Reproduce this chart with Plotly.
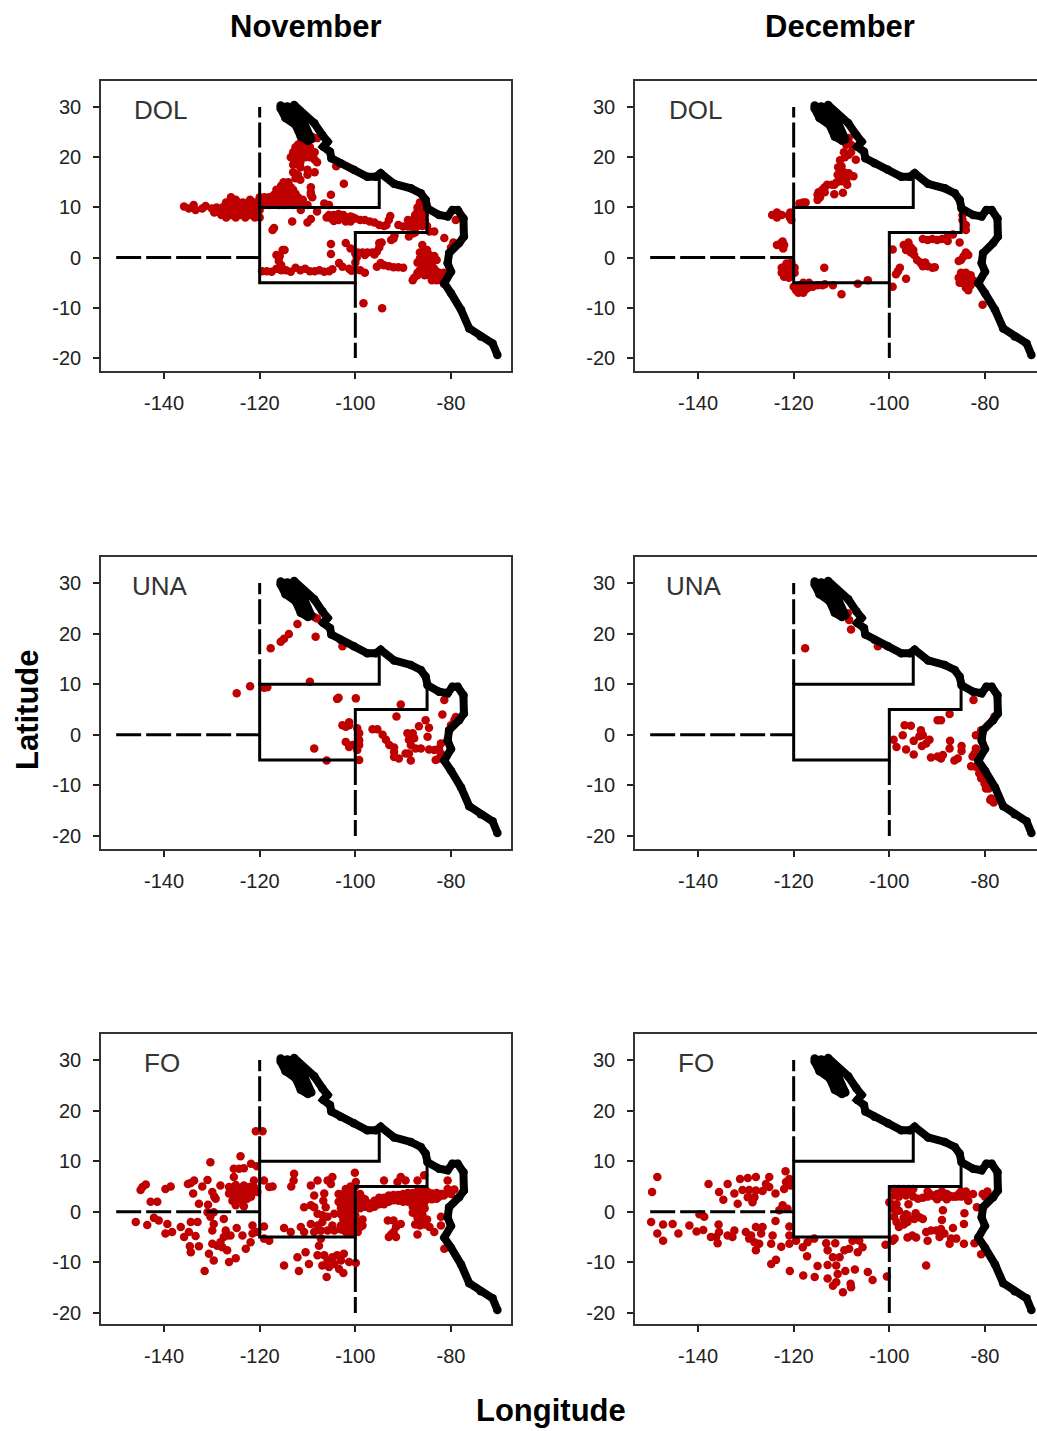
import plotly.graph_objects as go

X_TICKS = [-140, -120, -100, -80]
Y_TICKS = [-20, -10, 0, 10, 20, 30]
MONTHS = ["November", "December"]
GEARS = ["DOL", "UNA", "FO"]

COAST_BAJA = [(-115.6,30.3),(-115.6,29.7),(-114.6,27.8),(-112.5,26.4),(-111.4,24.1),(-109.9,23.3)]
COAST_BAJA_E = [(-114.2,30.1),(-112.1,28.8),(-110.7,26.8),(-110,24.8),(-109.2,23.6)]
COAST_GULF = [(-114.6,30),(-113.2,28.4),(-111.8,26.8),(-111.1,24.8)]
COAST_MAIN = [(-112.8,30.4),(-110.7,28.4),(-108.6,26.8),(-106.9,24.4),(-105.8,23.1),(-106.7,22.1),(-105.3,21.1),(-105,19.8),
 (-103.1,18.8),(-100.3,17.5),(-97.5,16.1),(-95.7,16.1),(-94.7,16.8),(-91.9,14.7),(-88.4,13.8),(-86.3,12.8),(-85.3,11.5),
 (-84.9,9.8),(-82.5,8.5),(-80.7,8.2),(-79.7,9.5),(-78.6,9.5),(-77.4,7.8),(-77.3,4.2),(-78.3,2.9),(-80.4,0.9),(-80.7,-1.1),
 (-80,-2.8),(-81.4,-5.1),(-80,-7.1),(-77.9,-10.4),(-76.2,-14.1),(-73.8,-15.7),(-71.3,-17.1),(-70.3,-19.4)]
AREA_UPPER = [(-95,16),(-95,10),(-120,10),(-120,-5),(-100,-5),(-100,5),(-85,5),(-85,9.5)]
DASH_NORTH = [(-120,10),(-120,30)]
DASH_WEST = [(-150,0),(-120,0)]
DASH_SOUTH = [(-100,-5),(-100,-20)]

NOV_DOL = [(-135.8,10.2),(-134.8,9.8),(-133.8,10.5),(-133.4,9.5),(-132,9.8),(-131.3,10.3),
(-130,9.8),(-129.5,9),(-129,10),(-128,8.5),(-128,9.8),(-127,8),(-127,9.5),(-127,11),(-126,8.5),(-126,10),(-126,12),(-125,8),(-125,9.5),(-125,11.5),(-124,8.5),(-124,10),(-123.5,11),(-123,8),(-123,9.5),(-122,8.5),(-122,10),(-122,11.5),(-121,8),(-121,9.5),(-121,11),(-120,8),(-120,9.5),(-120,11),(-120,12),
(-119,10.5),(-119,12),(-118,10.5),(-118,12),(-117,11),(-117,12.5),(-116.5,13.5),(-116,10.5),(-116,12),(-115,10.5),(-115,12),(-115,13.5),(-115,15),(-114,11),(-114,12.5),(-114,14),(-114,15),(-113,10.5),(-113,12),(-113,13.5),(-112,10.5),(-112,12),(-111,10.5),(-111,11.5),(-110,10.5),
(-113.5,20),(-113,18.5),(-113,17),(-113,21),(-112.5,22),(-112,20.5),(-112,22.5),(-111.5,19),(-111.5,18),(-111,21),(-111,22.5),(-110.5,20),(-110.5,23),(-110,22),(-110,20.5),(-109.5,20),(-108.5,21),(-108.5,19.5),(-109,24),(-108,23.8),(-108,19),(-112,16.5),(-111.5,15.5),(-110,17.5),(-108.5,17),(-110,16.5),(-112.5,15.8),
(-109.3,14),(-109.3,13),(-109,12),(-109.3,12.5),(-102.4,14.7),(-105.1,12.5),(-104,18.2),(-106.5,10.8),(-105.5,10.5),
(-111.4,9.5),(-108,9.2),(-113.2,7.2),(-109.3,7.7),(-110,7),(-117.3,5.5),(-117,5.9),
(-106,8),(-105,7.8),(-104,8),(-103,8.2),(-102,8),(-102,7.2),(-101,8.2),(-101,7.2),(-100,7.8),(-99,7.5),(-98,7.5),(-97,7.2),(-96,7),(-95,6.5),(-94,6.3),(-93,7.5),(-93.5,6.5),(-92.7,8.3),
(-91,6.5),(-90,6.2),(-89,6.2),(-88,6.3),(-87,6.3),(-86,6.3),(-85,6.3),(-89,7.5),(-88,7.5),(-87,7.5),(-86,7.5),(-85.5,7.5),(-87.5,8.5),(-86.5,8.5),(-85.5,8.5),(-87,10),(-86,10),(-85.5,9.5),(-86.5,11),(-84.5,5.2),(-83.5,5.2),
(-88.8,4.2),(-88,4.8),(-87.5,5),(-92,3.8),(-92.5,3.5),(-91.8,4.4),(-81.4,3.9),(-79,7.5),(-79.5,3),(-80,2),
(-105.1,2.7),(-105.1,0.7),(-102,2.9),(-101,1.8),(-100,0.8),(-99.7,0),(-100,-1),
(-99.5,1),(-98.5,1),(-97.5,1),(-96.5,1),(-95.5,1.2),(-95,2),(-94.5,3),(-96,0.6),(-98,0.5),(-95,2.9),
(-119.5,-2.7),(-118.5,-2.7),(-117.5,-2.8),(-116.5,-2.2),(-116,-2.2),(-115.5,-2.5),(-114.5,-2.5),(-113.5,-2.8),(-112.5,-2),(-111.5,-2.5),(-110.5,-2.2),(-109.5,-2.7),(-108.5,-2.7),(-107.5,-2.5),(-106.5,-2.8),(-105.5,-2.7),(-104.8,-2.3),
(-115.2,1.5),(-115.8,0.3),(-116,-0.7),(-115.5,-1.5),(-116.5,0.5),(-114.8,1.5),
(-103.4,-1.1),(-102.7,-1.8),(-101.3,-2.2),(-100.8,-2.6),(-100,-2.4),(-99,-2.5),(-98,-3),
(-94.7,-1.1),(-95.5,-1.8),(-94,-1.5),(-93,-1.7),(-92,-1.9),(-91,-1.9),(-90,-2),
(-86,2.5),(-86.5,1),(-86,1),(-85,1.5),(-84.5,0.5),(-86.5,-0.2),(-85.5,0),(-84.5,-0.5),(-83.5,0.3),(-87,-1),(-86,-1.2),(-85,-1),(-84,-1),(-83,-0.5),(-86.5,-2.5),(-85.5,-2.2),(-84.5,-2.2),(-83.5,-2.2),(-87,-3),(-85.5,-3.5),(-84.5,-3.5),(-83.5,-3.5),(-82.5,-3),(-81.5,-3),(-84,-4.5),(-83,-4.5),(-82,-4.5),(-81.5,-5.2),(-82,-4),(-88,-4.5),(-87.7,-4),(-87,-3.5),
(-98.3,-9.1),(-94.4,-10.1),
(-128.5,9.2),(-127.5,8.8),(-127.5,10.2),(-126.5,9.2),(-126.5,10.8),(-125.5,8.8),(-125.5,10.5),(-124.5,9.2),(-124.5,11),(-123.5,8.8),(-123.5,10),(-122.5,9.2),(-122.5,10.8),(-121.5,8.8),(-121.5,10.2),(-120.5,8.7),(-120.5,10.2),
(-118.5,11.2),(-117.5,11.5),(-116.5,11.2),(-116.5,12.5),(-115.5,11.2),(-115.5,12.8),(-115.5,14.3),(-114.5,11.5),(-114.5,13),(-114.5,14.5),(-113.5,11.2),(-113.5,12.7),(-113.5,14),(-112.5,11.2),(-112.5,12.7),(-111.5,11),
(-112.5,21),(-111.5,21.8),(-111.5,22.8),(-110.5,21.5),(-110,23),(-109.5,22),(-109.5,21),(-112.8,19.5),(-112,19),(-109.5,23.5),
(-105.5,8.5),(-104.5,8.5),(-103.5,8.7),(-102.5,8.5),(-103.5,7.5),(-104.5,7.3),(-100.5,8),
(-88.5,6.8),(-87.5,6.9),(-86.5,6.9),(-85.5,6.8),(-87,9.2),(-86.2,9.2),
(-85.5,1),(-85,0.5),(-85,-0.2),(-84,0),(-85.5,-1.7),(-84.8,-1.6),(-84,-1.7),(-85,-2.8),(-84,-2.8),(-83,-2.8),(-84,-4),(-83,-3.8),(-85.8,-2.8)]

DEC_DOL = [(-109.5,21),(-108.5,23.8),(-108,22.5),(-109,22.5),(-108,21),(-108.5,20.5),(-109.3,20),(-107,19.5),
(-110.3,19.4),(-110.7,18),(-110,18.2),(-110.8,16.5),(-110,16),(-109.5,17),(-108.5,16.8),(-107.5,16.2),(-109,15.5),(-110,15.2),(-108.8,14.5),(-111,15),(-111.5,14.5),
(-112,14.5),(-113,14.5),(-113.5,14),(-114,13.5),(-114.8,13),(-115,12.5),(-115,11.5),(-113.5,13),(-114.5,12),(-111.5,12.6),(-109.7,12.9),
(-118,11),(-118.8,10.8),(-117.5,11),
(-124,8.5),(-124.5,8.5),(-123.5,9),(-123.5,8),(-122.5,8.5),(-120.8,8),(-120.7,9),(-120.5,7.5),(-121,8.5),
(-123,2.6),(-123.5,2.5),(-122.5,3),(-122,2.5),(-122.3,3.2),(-122.2,1.8),
(-122.5,-2),(-121.5,-1.2),(-120.5,-1),(-122.5,-3),(-121.5,-3),(-120.5,-3),(-119.8,-2),(-119.8,-3),(-122,-3.8),(-121,-4),(-121.8,-1.8),(-113.6,-2),
(-120,-5.8),(-119.5,-6.5),(-119,-6),(-118.5,-6.5),(-118,-7),(-117.5,-6.3),(-117,-6),(-116.8,-5),(-118,-5),(-116,-5.8),(-115,-5.5),(-114,-5.5),(-113.5,-5.3),(-111.8,-5.5),(-110,-7.3),(-106.6,-5.2),(-104.5,-4.5),(-99.3,-5.8),
(-99.3,1.6),(-98.2,-2.7),(-97.8,-2),(-98.6,-3.3),(-96.5,-4.2),
(-97,2.5),(-96,3),(-95.5,2),(-96.5,1.5),(-95.5,1),(-94.8,0.5),(-95,1.5),
(-94.2,-0.5),(-93.5,-1),(-93,-1.7),(-92,-1.7),(-91,-2),(-90.5,-1.9),(-92.5,-1),
(-93,3.7),(-92,3.5),(-91,3.7),(-90,3.5),(-89,3.7),(-88,4),(-87.8,3.3),(-86.7,4.6),(-85.3,3),
(-84,5.5),(-84,6.5),(-84.7,7.5),(-84.7,8.5),
(-84,1),(-84.5,0.2),(-85,-0.5),(-85.5,-0.7),(-83.5,0.5),
(-85.5,-4),(-85,-3),(-84,-3),(-83,-3.5),(-84.8,-5),(-83.8,-5.5),(-83,-5.5),(-83.5,-6.5),(-82.5,-4.5),(-84,-4.5),(-85.3,-5),(-80.5,-9.4),
(-96.5,2.5),(-95.7,1.6),(-96,2.3),(-122,-2.5),(-121,-2),(-121,-3.5),(-118.8,-5.5),(-119,-7),(-117.5,-5.5),(-84.5,-4),(-83.5,-4),(-84,-6),(-83,-4.8)]

NOV_UNA = [(-112.1,21.9),(-108.3,19.4),(-113.9,19.9),(-114.9,19),(-115.6,18.4),(-117.7,17.1),(-108.6,23.3),(-108,23),(-102.7,17.5),(-109.5,10.5),
(-124.8,8.2),(-122,9.6),(-119.1,9.3),(-118.4,9.4),(-103.8,7.1),(-103.5,7.3),(-99.9,7.2),(-90.5,6),(-91.4,3.6),(-81.4,6.9),(-81.8,4),
(-79.3,2.9),(-80,1.9),(-79,3.5),(-102.7,1.9),(-101.3,2.5),(-102,1.6),(-101.3,1.9),(-99.6,1.3),(-99.2,0.3),(-102,-1.4),(-101.3,-2.4),(-100.6,-2),(-99.2,-1.1),(-99.2,-2),(-99.6,-3),(-99.2,-5),(-108.6,-2.7),(-106,-5.1),
(-96.4,1.1),(-95.4,1.1),(-94.3,0),(-93.6,-1),(-92.9,-2),(-91.9,-2.5),(-91.9,-3.4),(-91.9,-4.4),(-90.9,-4.7),(-88.4,-5.1),(-88.8,-3.7),(-89.5,-3.7),
(-89.1,0.3),(-88,0.3),(-88.8,-1),(-87.7,-0.7),(-88.4,-2),(-87.4,-2.7),(-86.3,-2.7),(-84.6,-2.9),(-83.5,-3),(-82.5,-2.7),(-82.1,-3.7),(-83.2,-5),(-82.5,-4.7),(-82.1,-1.7),
(-86.7,1.7),(-85.3,2.9),(-84.6,1.4),(-84.9,-0.4)]

DEC_UNA = [(-117.6,17.1),(-108.4,22.7),(-108,20.8),(-108.7,24),(-102.4,17.5),(-82.4,6.9),(-87.4,4.1),(-89.2,2.9),(-89.9,2.9),
(-96.8,1.9),(-95.5,1.8),(-97.2,-0.1),(-99.1,-1),(-98.5,-2.4),(-96.5,-2.9),(-94.9,-1.2),(-94.9,-3.9),(-93.4,0.9),(-93.7,-0.3),(-93,-0.1),(-91.6,-1),(-92.3,-1.7),(-93.2,-2.2),(-91.3,-4.5),(-89.9,-4.3),(-89.2,-4.7),(-88.8,-4),(-86.4,-5.1),(-85.7,-4.7),(-87.3,-1.2),(-87.4,-2.7),(-84.9,-2.2),(-84.9,-3.2),
(-81.9,-0.1),(-80.8,0.9),(-78,3.6),(-82.2,-3.7),(-82.6,-4.3),(-81.9,-2.7),(-82.9,-6.2),(-81.9,-6.3),(-81.2,-7.6),(-80.8,-8.6),(-80.1,-9.6),(-79.8,-10.6),(-79.2,-10.6),(-78.7,-12.6),(-78.2,-13.4),(-78.9,-12.9)]

NOV_FO = [(-143.8,5.4),(-144.9,4.3),(-144.5,4.9),(-139.7,4.5),(-138.6,5),(-142.8,2),(-141.4,2),(-145.9,-2),(-143.5,-2.6),(-142.1,-1.2),(-141.1,-1.7),(-139.3,-2.4),(-139.7,-4.3),(-138.3,-4),(-136.5,-3),
(-134.4,5.7),(-133.7,6.2),(-135,5.5),(-133.9,3.6),(-132,5),(-130.9,6.3),(-130.3,9.8),(-132.7,1.6),(-130.8,1.4),(-129.9,3.9),(-129.2,2.6),(-129.5,3),
(-130.9,-0.1),(-129.6,-0.1),(-130.3,-1),(-129.6,-2.4),(-129.9,-3.7),(-127.5,-1.4),(-134.4,-2),(-133,-2),(-134.8,-4),(-135.8,-5),(-133.4,-4.8),(-134.6,-6.8),(-134.4,-8),(-132.7,-6.8),
(-130.6,-8.3),(-129.9,-6.3),(-128.9,-6.7),(-129.6,-9.6),(-128.2,-6),(-127.1,-3.7),(-126.8,-4.7),(-127.5,-5),(-126.1,-4.7),(-127.8,-7),(-126.8,-7.6),(-126.4,-9.9),(-125,-9.2),(-124.8,-3.2),(-123.6,-4.7),(-131.5,-11.7),
(-122.9,-7.3),(-121.9,-6),(-121.5,-4.3),(-121.5,-2.7),(-120.5,-4),(-119.1,-2.9),(-119.1,-5.3),(-118,-5.7),
(-124,11),(-121.8,9.5),(-120.6,9),(-125.4,8.5),(-124.3,8.5),(-123.3,8.6),(-125.4,6.9),(-128.2,5.2),(-126.4,4.9),(-125.4,4.9),(-124.3,4.5),(-123.3,5.2),(-122.2,4.9),(-121.2,6.2),(-121.2,4.9),(-120.5,3.9),
(-126.4,3.6),(-125.4,3.6),(-124.3,3.6),(-123.3,3.6),(-122.2,3.6),(-125.7,2.2),(-124.7,2.6),(-123.6,2.2),(-122.6,2.6),(-125,1.3),(-123.3,1.1),
(-120.8,15.9),(-119.4,15.9),(-119.1,6.2),(-118,4.9),(-117.3,5),(-112.8,7.5),(-112.9,6.2),(-113.4,5),(-110.7,0.9),(-109.3,1.3),(-109.3,5.2),(-107.9,6.2),(-108.6,3.2),
(-105.8,6.2),(-104.8,6.9),(-105.1,5.5),(-100.1,7.7),(-99.9,5.9),(-106.5,3.6),(-106.7,2.2),(-106.2,0.9),(-108.6,0.9),(-107.9,-0.4),(-106.9,-0.7),(-105.8,-1),(-104.4,-0.4),(-106.9,-2),(-107.9,-2.7),(-109.3,-2.4),(-111.4,-3),(-114.9,-3.2),(-113.5,-4),(-110.7,-4),(-108.6,-4),(-107.2,-3.7),(-105.8,-3.7),(-104.8,-2.7),(-104.4,-3.7),
(-103.5,3.5),(-102,4.5),(-101,5),(-100,5),(-103.5,2),(-102,2.5),(-100.8,3.5),(-100,3),(-103,0.7),(-102,1),(-100.8,2),(-100,1),(-102,-0.5),(-100.8,0),(-100,-0.7),(-102.5,-1.5),(-101,-1.5),(-100,-2),(-103,-2.7),(-102,-3),(-101,-3),(-100,-3.5),(-102,-4),(-101,-4.2),(-99,-2),(-98.5,-1.5),(-99,-3),(-99.5,-4),(-98.5,-2.7),
(-99,3.5),(-98,2.5),(-99,2),(-99,0.7),(-98,1),(-98,2.2),(-97,1.5),(-97,0.7),(-96,2.2),(-96,1),(-95,2.8),(-95,1.5),(-94,2.8),(-94,1.5),(-93,3.2),(-93,2),(-92,3.3),(-92,2.3),(-91,3.3),(-91,2.2),(-90,3.5),(-90,2),(-89,3.7),(-89,2),(-88,3.7),(-88,2.3),(-88,1),(-87,4),(-87,2.6),(-87,1.2),(-86,4),(-86,2.7),(-86,1.3),(-85,4),(-85,2.6),(-84,3.6),(-84,2.5),(-83,3.7),(-83,2.6),(-82,3.5),(-81,3.6),(-80,3.5),
(-88,-0.2),(-87,-0.2),(-87,-1.2),(-86,-0.5),(-86,-1.5),(-87.5,-2.5),(-86.5,-2.7),(-85.5,-2.5),(-85,-1.5),(-84.5,-3),(-83.5,-4),(-87,-4.5),
(-80.7,6.2),(-79.3,4.4),(-80.7,4.5),(-82.1,-1),(-82.1,-2.7),(-81.4,-7.3),
(-93.2,-1.7),(-92,-1.7),(-90.5,-2.4),(-91.5,-3),(-92,-4),(-93,-5),(-91.5,-5),(-92.5,-4.5),
(-90.5,6.9),(-89.5,6.2),(-85.6,7.2),(-87,6.2),(-94,6.2),(-91.2,5.9),
(-107.2,-5.3),(-107.6,-6.7),(-110.4,-8),(-112.1,-9),(-114.9,-10.6),(-111.8,-11.7),(-109.7,-10.3),(-107.9,-8.6),(-106.5,-8.6),(-105.8,-9.6),(-104.8,-9),(-103.8,-8.6),(-102.4,-8.3),(-104.4,-10.3),(-103,-9.6),(-106.9,-10.6),(-105.5,-10.9),(-103.4,-11.3),(-106,-12.9),(-102.5,-12.1),(-101.3,-9.9),(-99.9,-10.1),
(-125,4.2),(-124,4),(-123,4.2),(-122,4.2),(-124.8,3),(-123.8,3),(-122.8,3),(-121.8,3),(-125,5.3),
(-103,3),(-102.5,3.5),(-101.5,3.8),(-100.5,4.3),(-103,1.3),(-101.5,1.5),(-100.5,0.5),(-101.5,0.3),(-102.5,0.2),(-103,-0.5),(-101.5,-0.8),(-100.5,-1),(-102,-2),(-101,-2.3),(-100.3,-2.8),(-103,-3.5),(-101.5,-3.5),(-100.5,-4),(-98.5,2.7),
(-97.5,1.8),(-96.5,1.5),(-95.5,2.2),(-94.5,2.2),(-93.5,2.6),(-92.5,2.8),(-91.5,2.8),(-90.5,2.8),(-89.5,2.8),(-88.5,3),(-87.5,3.3),(-86.5,3.3),(-85.5,3.3),(-84.5,3),(-83.5,3),(-82.5,3),(-81.5,3.2),(-87.5,1.8),(-86.5,2),(-85.5,2),(-87.5,0.5),(-86.5,0.5),(-85.5,0.7),(-99.2,1.5),(-98.2,1.6)]

DEC_FO = [(-148.5,6.9),(-149.6,3.9),(-137.8,5.5),(-133.8,5.5),(-131.2,6.5),(-129.6,6.7),(-127.9,6.9),(-125.1,6.9),(-121.7,8),
(-135.6,3.9),(-134.7,2.4),(-132.4,3.6),(-130.7,4.3),(-129.3,4.3),(-127.9,4.2),(-126.5,4.1),(-129.6,2.9),(-128.2,2.9),(-128.6,1.9),(-131.7,1.6),(-125.8,5.5),(-125.1,4.9),(-123.8,3.6),(-122,4.5),(-121.6,5.9),(-120.9,6.5),(-120.6,5.2),
(-122.3,1.3),(-123,0.3),(-121.3,0.6),(-139.7,-0.5),(-138.7,-1),
(-149.8,-2),(-148.5,-4.3),(-147.3,-5.7),(-147.3,-2.5),(-145.3,-2.4),(-144.1,-4.3),(-141.8,-2.7),(-140.3,-3.9),(-138.9,-3.6),
(-135.7,-2.5),(-137.3,-5),(-136.2,-5),(-135.9,-6.2),(-135.6,-4),(-133.8,-4.7),(-132.4,-3.7),(-132.8,-5),
(-130,-4),(-128.9,-4.7),(-127.9,-3),(-126.5,-3),(-126.8,-4.3),(-129.3,-5.3),(-128.2,-6),(-127.2,-6.3),(-127.9,-7.6),
(-124.7,-6.3),(-124.4,-4.7),(-123.8,-1.8),(-120.9,-2.9),(-120.9,-4.7),
(-122.6,-6.9),(-120.9,-6.3),(-119.5,-5.7),(-118.1,-7),(-117.1,-6),(-115.7,-5.3),(-117.2,-8.8),
(-113.2,-6.2),(-111.3,-6.2),(-112.9,-7.6),(-111.8,-9),(-110.4,-9),(-109.4,-7.6),(-108.4,-7.3),(-107.7,-5.7),(-106.3,-5.7),(-105.6,-7),(-106.6,-8),
(-124.7,-10.3),(-123.7,-9.5),(-120.8,-11.7),(-118,-12.6),(-115.6,-12.9),(-115,-10.7),(-112.9,-10.5),(-111.1,-10.6),(-109.2,-11.7),(-107.2,-11.4),
(-112.9,-13.2),(-110.8,-12.3),(-111.1,-13.9),(-111.8,-14.6),(-109.7,-15.9),(-108.1,-14.2),(-108,-14.9),
(-104.5,-11.9),(-103.5,-13.5),(-100.5,-12.8),(-100.8,-6.5),(-99.3,-5.7),(-98.9,-5.3),(-100,1.9),
(-99,4.5),(-98,4.5),(-97,4.5),(-96,4.5),(-95,4.5),(-99,3.2),(-98,3),(-96.5,3.2),(-95,3),(-94,2.6),(-93,2.8),(-92,3),(-92,4),(-91,3.2),(-90,3.5),(-90,2.5),(-89,4),(-89,3),(-88,3.5),(-88,2.5),(-87,3),(-86,3),(-85,3),(-85,4),(-84,3),(-84,4),(-83.5,2.2),(-82.5,3.5),(-80.5,3.5),(-79.5,4),(-80,3),
(-99.5,1.5),(-98.5,1.5),(-99,0.5),(-98,0.2),(-99,-1),(-98.5,-2),(-98,-3),(-97,-2.5),(-97,-1.2),(-96.5,-0.5),(-96,1.5),
(-93.7,-1.1),(-94.8,-1.4),(-96.2,-0.7),(-96.2,-2),(-93,-1.4),(-94.5,-0.3),(-95.2,-4.7),(-96.2,-5.1),(-94.4,-5.1),
(-88.8,0.3),(-89,-1.6),(-84.3,-0.3),(-84.4,-2.4),(-86.7,-3.2),(-81.7,0.9),(-82.2,-6.2),(-84.4,-6.3),(-80.8,-8.4),(-92.3,-10.6),
(-92.3,-4),(-91.3,-3.7),(-90.2,-3.7),(-89.2,-3.4),(-88.5,-4.3),(-92,-5.7),(-89.5,-5),(-87.4,-6.3),(-87.1,-5.3),(-86,-5.3),
(-97.5,3.8),(-96,3.8),(-91.5,3.5),(-90.5,3),(-89.5,3.5),(-88.5,3),(-87.5,3.2),(-86.5,3),(-85.5,3.5),(-84.5,3.5)]

PANEL_POINTS = [[NOV_DOL, DEC_DOL], [NOV_UNA, DEC_UNA], [NOV_FO, DEC_FO]]

W, H = 1037, 1431
ROW_PX = [(81, 371, 107, 358), (557, 849, 583, 836), (1034, 1324, 1060, 1313)]   # top, bottom, y(30), y(-20)
COL_PX = [(101, 511, 164, 451), (635, 1037, 698, 985)]                           # left, right, x(-140), x(-80)
LABEL_PX = [[(161, 110), (695, 110)], [(160, 586), (694, 586)], [(162, 1063), (696, 1063)]]
RED = "#BE0000"
FONT = "Liberation Sans"

fig = go.Figure()
layout = dict(
    width=W, height=H, margin=dict(l=0, r=0, t=0, b=0), paper_bgcolor="white", plot_bgcolor="white",
    showlegend=False, font=dict(family=FONT, color="#1a1a1a"),
)
ann = []

def xy(seq):
    return [p[0] for p in seq], [p[1] for p in seq]

for r, (top, bot, y30, ym20) in enumerate(ROW_PX):
    for c, (left, right, xm140, xm80) in enumerate(COL_PX):
        idx = r * 2 + c + 1
        sfx = "" if idx == 1 else str(idx)
        xs = (xm80 - xm140) / 60.0
        ys = (ym20 - y30) / 50.0
        layout["xaxis" + sfx] = dict(
            domain=[left / W, right / W], range=[-140 + (left - xm140) / xs, -80 + (right - xm80) / xs],
            tickvals=X_TICKS, ticktext=[str(v) for v in X_TICKS], ticks="outside", ticklen=6, tickwidth=1.5, tickcolor="#222",
            showgrid=False, zeroline=False, showline=True, linecolor="#333", linewidth=1.6, mirror=True,
            anchor="y" + sfx, tickfont=dict(size=20, family=FONT, color="#222"), ticklabelstandoff=7,
        )
        layout["yaxis" + sfx] = dict(
            domain=[1 - bot / H, 1 - top / H], range=[-20 - (bot - ym20) / ys, 30 + (y30 - top) / ys],
            tickvals=Y_TICKS, ticktext=[str(v) for v in Y_TICKS], ticks="outside", ticklen=6, tickwidth=1.5, tickcolor="#222",
            showgrid=False, zeroline=False, showline=True, linecolor="#333", linewidth=1.6, mirror=(c == 0),
            anchor="x" + sfx, tickfont=dict(size=20, family=FONT, color="#222"), ticklabelstandoff=8,
        )
        ax = dict(xaxis="x" + sfx, yaxis="y" + sfx, hoverinfo="skip")
        px, py = xy(PANEL_POINTS[r][c])
        fig.add_trace(go.Scatter(x=px, y=py, mode="markers", marker=dict(color=RED, size=8.5), **ax))
        for coast in (COAST_BAJA, COAST_BAJA_E, COAST_GULF, COAST_MAIN):
            cx, cy = xy(coast)
            fig.add_trace(go.Scatter(x=cx, y=cy, mode="lines+markers", line=dict(color="black", width=8),
                                     marker=dict(color="black", size=8.5), **ax))
        ux, uy = xy(AREA_UPPER)
        fig.add_trace(go.Scatter(x=ux, y=uy, mode="lines", line=dict(color="black", width=3), **ax))
        for d in (DASH_NORTH, DASH_WEST, DASH_SOUTH):
            dx, dy = xy(d)
            fig.add_trace(go.Scatter(x=dx, y=dy, mode="lines", line=dict(color="black", width=3, dash="25px,5px"), **ax))
        lx, ly = LABEL_PX[r][c]
        ann.append(dict(text=GEARS[r], xref="paper", yref="paper", x=lx / W, y=1 - ly / H, showarrow=False,
                        xanchor="center", yanchor="middle", font=dict(size=26, family=FONT, color="#333")))

TITLE_FONT = dict(size=31, family=FONT, color="black", weight="bold")
common = dict(xref="paper", yref="paper", showarrow=False, xanchor="center", yanchor="middle", font=TITLE_FONT)
ann.append(dict(text=MONTHS[0], x=306 / W, y=1 - 27 / H, **common))
ann.append(dict(text=MONTHS[1], x=840 / W, y=1 - 27 / H, **common))
ann.append(dict(text="Longitude", x=551 / W, y=1 - 1410 / H, **common))
ann.append(dict(text="Latitude", x=27 / W, y=1 - 710 / H, textangle=-90, **common))
layout["annotations"] = ann
fig.update_layout(**layout)
fig.write_html("out.html", config=dict(displayModeBar=False),
               post_script="document.body.style.margin='0';document.body.style.overflow='hidden';")
